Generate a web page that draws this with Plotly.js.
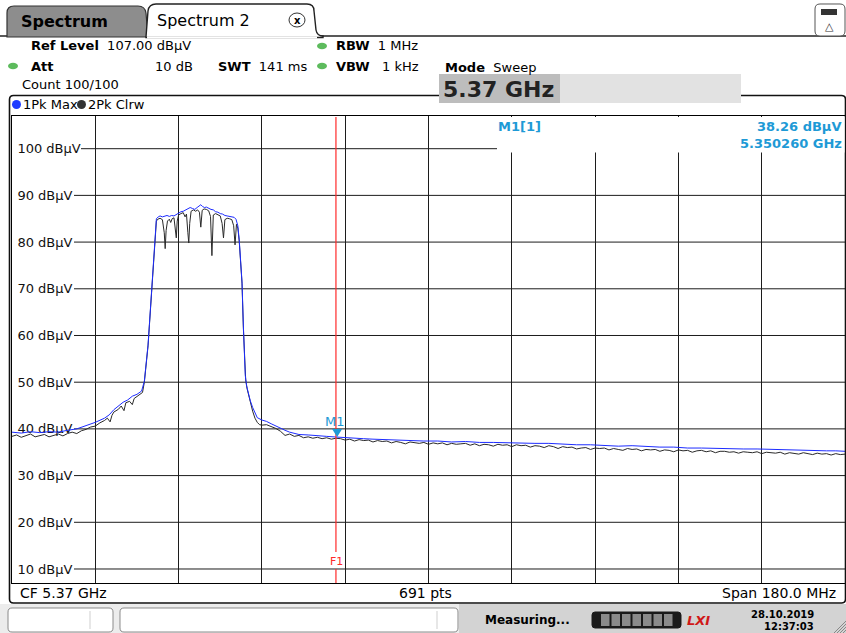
<!DOCTYPE html>
<html><head><meta charset="utf-8">
<script src="https://cdn.plot.ly/plotly-3.0.1.min.js"></script>
<style>html,body{margin:0;padding:0;background:#fff;overflow:hidden}#chart{width:846px;height:633px;}</style>
</head><body><div id="chart"></div>
<script>
// ---------- data (frequencies in MHz, levels in dBµV) ----------
const freqMax = [
5280,5282,5284,5286,5288,5290,5292,5294,5296,5298,
5300,5301,5302,5303,5304,5305,5306,5307,5308,5308.6,
5309.0,5309.4,5309.7,5310.0,5310.3,5310.6,5310.9,5311.2,5311.6,5312,
5312.5,5313,5313.5,5314,5314.5,5315,5315.5,5316,5316.5,5317,
5317.5,5318,5318.5,5319,5319.5,5320,5320.5,5320.8,5321.2,5321.6,
5322,5322.5,5323,5323.5,5324,5324.5,5325,5325.5,5326,5326.5,
5327,5327.5,5328,5328.4,5328.8,5329.1,5329.4,5329.7,5330.0,5330.2,
5330.4,5330.7,5331.1,5331.5,5332,5332.5,5333,5334,5335,5336,
5337,5338,5339,5340,5341,5342,5344,5346,5348,5350,
5352,5354,5356,5358,5360,5363,5366,5369,5372,5375,
5378,5381,5384,5387,5390,5393,5396,5399,5402,5405,
5408,5411,5414,5417,5420,5423,5426,5429,5432,5435,
5438,5441,5444,5447,5450,5453,5456,5458,5460];
const levelMax = [
39.3,39.1,39.4,39.2,39.4,39.3,39.7,40.0,40.7,41.4,
42.3,43.0,44.1,44.9,45.7,46.2,47.0,47.4,48.1,50.2,
53.5,58.0,62.5,67.0,72.0,78.0,82.5,85.0,85.4,85.6,
85.4,85.6,85.7,85.5,85.7,85.6,85.9,86.2,86.5,86.6,
86.9,87.1,87.4,87.2,87.0,87.4,87.7,88.0,87.6,87.4,
87.5,87.2,87.0,86.9,86.5,86.4,86.1,86.0,85.7,85.6,
85.5,85.3,85.3,84.9,83.5,80.5,76.5,71.5,62.0,55.0,
51.5,49.2,47.4,46.0,44.6,43.3,42.4,41.9,41.6,41.1,
40.6,40.1,39.7,39.3,39.0,38.8,38.7,38.5,38.4,38.26,
38.1,38.0,37.9,37.8,37.7,37.6,37.5,37.4,37.4,37.2,
37.3,37.1,37.1,37.0,37.0,36.9,36.9,36.7,36.6,36.6,
36.4,36.3,36.4,36.2,36.1,36.1,35.9,35.9,35.8,35.8,
35.7,35.7,35.6,35.6,35.5,35.4,35.3,35.3,35.2];

const freqClrw = [
5280,5281,5282,5283,5284,5285,5286,5287,5288,5289,
5290,5291,5292,5293,5294,5295,5296,5297,5298,5299,
5300,5300.6,5301.2,5301.6,5302,5303,5303.6,5304.2,5304.6,5305.4,
5306,5306.4,5307,5307.6,5308.2,5308.6,5309.0,5309.4,5309.7,5310.0,
5310.3,5310.6,5310.9,5311.2,5311.5,5312.0,5312.5,5312.9,5313.1,5313.3,
5313.6,5314.0,5314.3,5314.6,5315.0,5315.3,5315.5,5315.7,5316.0,5316.5,
5317.0,5317.4,5317.7,5318.0,5318.2,5318.4,5318.7,5319.2,5319.7,5320.1,
5320.5,5320.8,5321.1,5321.5,5322.0,5322.5,5322.9,5323.2,5323.5,5324.0,
5324.5,5325.0,5325.4,5325.7,5326.0,5326.5,5327.0,5327.5,5327.9,5328.2,
5328.5,5328.8,5329.1,5329.4,5329.7,5330.0,5330.1,5330.3,5330.5,5330.8,
5331.2,5331.6,5332.0,5332.5,5333,5333.5,5334,5335,5336,5337,
5338,5339,5340,5341,5342,5343,5344,5345,5346,5347,
5348,5349,5350,5351,5352,5353,5354,5355,5356,5357,
5358,5359,5360,5361,5362,5363,5364,5365,5366,5367,
5368,5369,5370,5371,5372,5373,5374,5375,5376,5377,
5378,5379,5380,5381,5382,5383,5384,5385,5386,5387,
5388,5389,5390,5391,5392,5393,5394,5395,5396,5397,
5398,5399,5400,5401,5402,5403,5404,5405,5406,5407,
5408,5409,5410,5411,5412,5413,5414,5415,5416,5417,
5418,5419,5420,5421,5422,5423,5424,5425,5426,5427,
5428,5429,5430,5431,5432,5433,5434,5435,5436,5437,
5438,5439,5440,5441,5442,5443,5444,5445,5446,5447,
5448,5449,5450,5451,5452,5453,5454,5455,5456,5457,
5458,5459,5460];
const levelClrw = [
38.4,38.7,38.2,38.6,38.9,38.3,38.5,38.8,38.3,38.6,
38.9,38.5,39.0,39.3,39.0,39.6,39.9,40.4,40.6,41.3,
41.8,42.3,41.5,42.9,43.6,44.2,44.9,43.9,45.6,45.9,
45.2,46.5,46.9,47.3,47.8,50.0,53.3,57.8,62.3,66.8,
71.8,77.8,82.0,84.5,84.9,85.1,84.8,82.0,78.6,82.5,
84.5,84.9,84.2,85.0,85.2,83.0,80.9,84.5,85.8,86.1,
86.3,85.4,86.0,82.0,79.8,84.0,86.6,86.9,86.6,86.9,
86.4,83.2,86.8,87.1,87.0,86.7,85.5,77.1,85.8,86.1,
85.9,85.6,84.0,80.9,84.8,85.1,85.0,84.8,83.5,79.4,
83.8,83.0,80.2,76.2,71.2,61.5,59.0,52.0,50.5,48.6,
46.8,45.3,43.8,42.3,41.4,40.9,40.8,40.9,40.5,40.1,
39.5,38.6,38.9,38.4,38.6,38.1,38.3,38.0,38.2,37.9,
38.1,37.8,38.0,37.9,37.6,37.8,37.4,37.7,37.5,37.6,
37.2,37.5,37.3,37.4,37.0,37.3,37.1,36.8,37.2,37.0,
36.9,37.1,36.7,37.0,36.8,37.0,36.6,36.9,36.7,36.8,
36.9,36.5,36.8,36.4,36.7,36.6,36.3,36.7,36.5,36.6,
36.2,36.6,36.4,36.5,36.1,36.4,36.3,36.0,36.4,36.2,
35.8,36.2,36.0,36.1,35.7,35.9,36.0,35.6,35.9,35.8,
35.9,35.5,35.8,35.6,35.4,35.8,35.6,35.7,35.3,35.6,
35.5,35.6,35.2,35.5,35.4,35.1,35.5,35.3,35.4,35.0,
35.3,35.4,35.1,35.3,34.9,35.2,35.2,35.0,35.1,34.8,
35.1,35.0,34.9,35.1,34.7,35.0,34.9,34.8,35.0,34.6,
34.9,34.8,34.6,34.9,34.7,34.5,34.8,34.6,34.7,34.4,
34.7,34.5,34.6];

const yTickVals = [10,20,30,40,50,60,70,80,90,100];
const yTickText = yTickVals.map(v => v + ' dBµV');
const markerFreq = 5350.26;   // MHz
const markerLevel = 38.26;    // dBµV
const f1Freq = 5350;          // MHz
const startFreq = 5280, stopFreq = 5460, refLevel = 107, bottomLevel = 7;

// ---------- helpers (pixel -> paper) ----------
const L = 12, R = 845, TOP = 116, BOT = 583;
const PX = x => (x - L) / (R - L);
const PY = y => (BOT - y) / (BOT - TOP);
const F = 'DejaVu Sans';
function pth(cmds){
  return cmds.map(c => c[0] + c.slice(1).map((v,i) => (i%2===0 ? PX(v) : PY(v)).toFixed(5)).join(',')).join(' ');
}
function rrect(x0,y0,x1,y1,r){
  return pth([['M',x0+r,y0],['L',x1-r,y0],['Q',x1,y0,x1,y0+r],['L',x1,y1-r],['Q',x1,y1,x1-r,y1],
              ['L',x0+r,y1],['Q',x0,y1,x0,y1-r],['L',x0,y0+r],['Q',x0,y0,x0+r,y0],['Z']]);
}
function T(text,x,y,o){
  o = o || {};
  return {text:text, x:PX(x), y:PY(y), xref:'paper', yref:'paper', showarrow:false,
    xanchor:o.xa||'left', yanchor:'middle', borderpad:0,
    font:{family:o.family||F, size:o.size||13, color:o.color||'#000'}};
}
function rect(x0,y0,x1,y1,fill,line,lw,layer){
  return {type:'rect', xref:'paper', yref:'paper', x0:PX(x0), x1:PX(x1), y0:PY(y1), y1:PY(y0),
    fillcolor:fill, line:{color:line||fill, width:lw===undefined?0:lw}, layer:layer||'above'};
}
function pathShape(d,fill,line,lw,layer){
  return {type:'path', xref:'paper', yref:'paper', path:d, fillcolor:fill,
    line:{color:line||fill, width:lw===undefined?1:lw}, layer:layer||'above'};
}
function circ(cx,cy,rx,ry,fill,line){
  return {type:'circle', xref:'paper', yref:'paper', x0:PX(cx-rx), x1:PX(cx+rx), y0:PY(cy+ry), y1:PY(cy-ry),
    fillcolor:fill, line:{color:line||fill, width:line?1:0}, layer:'above'};
}
function hline(x0,x1,y,color,w){
  return {type:'line', xref:'paper', yref:'paper', x0:PX(x0), x1:PX(x1), y0:PY(y), y1:PY(y),
    line:{color:color, width:w||1}, layer:'above'};
}
function vline(x,y0,y1,color,w){
  return {type:'line', xref:'paper', yref:'paper', x0:PX(x), x1:PX(x), y0:PY(y0), y1:PY(y1),
    line:{color:color, width:w||1}, layer:'above'};
}

const blue = '#1d2cff', dark = '#2a2a2a', mk = '#1e9ad6', grid = '#1c1c1c', green = '#5dbb5d';

// ---------- shapes ----------
const shapes = [];
// horizontal grid lines (start after the in-plot labels)
yTickVals.forEach(v => {
  shapes.push({type:'line', xref:'paper', yref:'y', x0:PX(v===100?81:74), x1:v===100?PX(497):1, y0:v, y1:v,
    line:{color:grid, width:1}, layer:'below'});
});
// tabs
shapes.push(hline(0, 846, 36, '#222', 1.5));
shapes.push(pathShape(pth([['M',7,37],['L',7,13],['Q',7,6,14,6],['L',138,6],['Q',145,6,146,13],['L',148,37],['Z']]), '#8d8d8d', '#333', 1.2));
shapes.push(pathShape(pth([['M',146,37],['L',148,11],['Q',149,4,156,4],['L',307,4],['Q',314,4,314,11],['L',316,30],['Q',317,36,323,36],['L',323,37.5],['L',146,37.5],['Z']]), '#ffffff', '#222', 1.4));
shapes.push(hline(147, 317, 37.5, '#ffffff', 2));
shapes.push(circ(297, 20, 8, 7, '#ffffff', '#333'));
shapes.push(pathShape(rrect(815, 4, 845, 36, 5), '#ffffff', '#555', 1));
shapes.push(rect(821, 9, 837, 15, '#333'));
// green indicator dots
shapes.push(circ(13, 66, 5, 3.2, green));
shapes.push(circ(322, 46, 5, 3.2, green));
shapes.push(circ(322, 66, 5, 3.2, green));
// outer window frame
shapes.push(pathShape(rrect(9.5, 95.5, 845.5, 603, 4), 'rgba(0,0,0,0)', '#111', 1.6));
// 5.37 GHz entry box
shapes.push(rect(439, 74, 741, 103, '#e2e2e2'));
shapes.push(rect(439, 74, 560, 103, '#bdbdbd'));
// legend dots
shapes.push(circ(16.5, 104.5, 4.5, 4.5, '#1f3dff'));
shapes.push(circ(81.5, 104.5, 4.5, 4.5, '#333333'));
// marker info panel (covers the grid in the top-right)
shapes.push(rect(497, 117, 844.5, 152.5, '#ffffff'));
// F1 frequency line (broken around its label)
shapes.push({type:'line', xref:'x', yref:'paper', x0:f1Freq, x1:f1Freq, y0:PY(117), y1:PY(552), line:{color:'#ff2a2a', width:1.2}, layer:'above'});
shapes.push({type:'line', xref:'x', yref:'paper', x0:f1Freq, x1:f1Freq, y0:PY(569), y1:PY(583), line:{color:'#ff2a2a', width:1.2}, layer:'above'});
// marker triangle (tip on the trace value)
shapes.push({type:'path', xref:'x', yref:'y', xsizemode:'pixel', ysizemode:'pixel', xanchor:markerFreq, yanchor:markerLevel,
  path:'M0,0 L-5,8 L5,8 Z', fillcolor:mk, line:{color:mk, width:0}, layer:'above'});
// bottom status area
shapes.push(rect(0, 604, 846, 633, '#ececec'));
shapes.push(rect(459, 604, 846, 633, '#d3d3d3'));
shapes.push(pathShape(rrect(8, 608, 113, 632, 4), '#ffffff', '#8a8a8a', 1));
shapes.push(vline(90, 611, 629, '#cfcfcf', 1));
shapes.push(pathShape(rrect(120, 608, 458, 632, 4), '#ffffff', '#8a8a8a', 1));
shapes.push(vline(437, 611, 629, '#cfcfcf', 1));
shapes.push(pathShape(rrect(592, 612, 681, 628, 3), '#1a1a1a', '#1a1a1a', 1));
for (let i = 0; i < 7; i++) shapes.push(rect(601 + i*10.5, 614, 609.5 + i*10.5, 626, '#8a8a8a'));
for (let i = 0; i < 4; i++) shapes.push({type:'line', xref:'paper', yref:'paper', x0:PX(834+i*3), y0:PY(633), x1:PX(846), y1:PY(621+i*3), line:{color:'#888', width:1}, layer:'above'});

// ---------- annotations ----------
const ann = [
  T('<b>Spectrum</b>', 20, 21, {size:16}),
  T('Spectrum 2', 156, 20, {size:16}),
  T('<b>x</b>', 297, 20, {xa:'center', size:10}),
  T('△', 829, 26, {xa:'center', size:11, color:'#333'}),
  T('<b>Ref Level</b>  107.00 dBµV', 30, 46),
  T('<b>Att</b>', 30, 66),
  T('10 dB', 194, 66, {xa:'right'}),
  T('<b>SWT</b>  141 ms', 217, 66),
  T('<b>RBW</b>  1 MHz', 335, 46),
  T('<b>VBW</b>   1 kHz', 335, 66),
  T('Count 100/100', 21, 85),
  T('<b>Mode</b>  Sweep', 444, 67),
  T('<b>5.37 GHz</b>', 442, 89, {size:22, color:'#222'}),
  T('1Pk Max', 22, 104.5),
  T('2Pk Clrw', 87, 104.5),
  T('<b>M1[1]</b>', 497, 126, {color:mk}),
  T('<b>' + markerLevel.toFixed(2) + ' dBµV</b>', 843, 126, {xa:'right', color:mk}),
  T('<b>' + (markerFreq/1000).toFixed(6) + ' GHz</b>', 843, 143, {xa:'right', color:mk}),
  T('F1', 336, 561, {xa:'center', size:11, color:'#ff2a2a'}),
  T('CF 5.37 GHz', 19, 593, {size:14}),
  T('691 pts', 425, 593, {xa:'center', size:14}),
  T('Span 180.0 MHz', 837, 593, {xa:'right', size:14}),
  T('<b>Measuring...</b>', 484, 620, {size:12}),
  T('<b><i>LXI</i></b>', 698, 620, {xa:'center', size:13, color:'#d01818'}),
  T('<b>28.10.2019</b>', 815, 614, {xa:'right', size:10}),
  T('<b>12:37:03</b>', 815, 626, {xa:'right', size:10}),
  {text:'M1', x:markerFreq, y:markerLevel, xref:'x', yref:'y', showarrow:false, yshift:16, xshift:-2,
   xanchor:'center', yanchor:'middle', font:{family:F, size:13, color:mk}}
];

// ---------- traces ----------
const traces = [
  {x:freqClrw, y:levelClrw, type:'scatter', mode:'lines', name:'2Pk Clrw',
   line:{color:dark, width:1}, hoverinfo:'skip'},
  {x:freqMax, y:levelMax, type:'scatter', mode:'lines', name:'1Pk Max',
   line:{color:blue, width:1}, hoverinfo:'skip'}
];

const layout = {
  width:846, height:633,
  margin:{l:L, r:846-R, t:TOP, b:633-BOT, pad:0},
  paper_bgcolor:'#ffffff', plot_bgcolor:'#ffffff',
  showlegend:false,
  font:{family:F, size:13, color:'#000'},
  xaxis:{range:[startFreq, stopFreq], tick0:startFreq, dtick:(stopFreq-startFreq)/10,
    showgrid:true, gridcolor:grid, gridwidth:1, showticklabels:false, ticks:'',
    zeroline:false, showline:true, mirror:true, linecolor:'#000', linewidth:1, fixedrange:true},
  yaxis:{range:[bottomLevel, refLevel], tickvals:yTickVals, ticktext:yTickText,
    ticklabelposition:'inside', ticks:'', ticklabelstandoff:5, showgrid:false, zeroline:false,
    showline:true, mirror:true, linecolor:'#000', linewidth:1, layer:'below traces',
    tickfont:{family:F, size:13, color:'#111'}, fixedrange:true},
  shapes:shapes,
  annotations:ann
};

Plotly.newPlot('chart', traces, layout, {staticPlot:true, displayModeBar:false});
</script></body></html>
